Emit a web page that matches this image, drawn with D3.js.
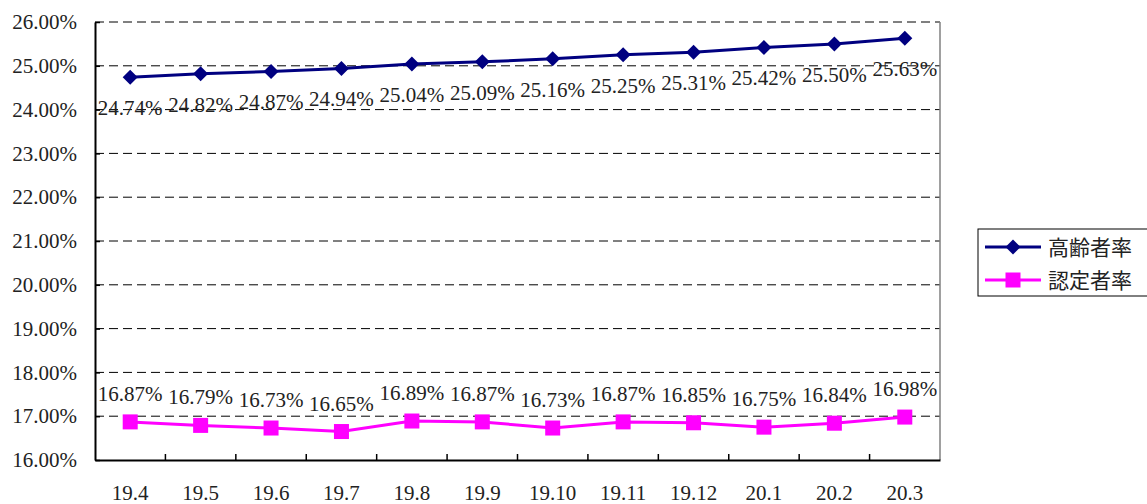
<!DOCTYPE html>
<html>
<head>
<meta charset="utf-8">
<script src="https://cdn.jsdelivr.net/npm/d3@7"></script>
</head>
<body style="margin:0;background:#fff">
<div id="chart"></div>
<script>
var categories = ["19.4","19.5","19.6","19.7","19.8","19.9","19.10","19.11","19.12","20.1","20.2","20.3"];
var seriesNames = ["高齢者率", "認定者率"];
var elderlyRate = [24.74,24.82,24.87,24.94,25.04,25.09,25.16,25.25,25.31,25.42,25.50,25.63];
var certifiedRate = [16.87,16.79,16.73,16.65,16.89,16.87,16.73,16.87,16.85,16.75,16.84,16.98];
var yTicks = [16,17,18,19,20,21,22,23,24,25,26];

var W = 1147, H = 504,
    margin = {top: 22, right: 207, bottom: 44, left: 95},
    width = W - margin.left - margin.right,
    height = H - margin.top - margin.bottom;

var NUM_FONT = "Liberation Serif";
var LEG_FONT = "Noto Sans CJK JP";

function numText(sel) {
  sel.attr("font-family", NUM_FONT).attr("font-size", 21).attr("fill", "#222");
}

var svg = d3.select("#chart").append("svg")
    .attr("width", W).attr("height", H);
var g = svg.append("g")
    .attr("transform", "translate(" + margin.left + "," + margin.top + ")");

var xScale = d3.scaleBand().domain(categories).range([0, width]).padding(0);
var yScale = d3.scaleLinear().domain([16, 26]).range([height, 0]);
var xc = function(i) { return xScale(categories[i]) + xScale.bandwidth() / 2; };

// grid
g.selectAll(".grid").data(yTicks.slice(1))
  .enter().append("line")
  .attr("x1", 0).attr("x2", width)
  .attr("y1", function(d) { return yScale(d); })
  .attr("y2", function(d) { return yScale(d); })
  .attr("stroke", "#000").attr("stroke-width", 1)
  .attr("stroke-dasharray", "9,5");

// right border
g.append("line").attr("x1", width).attr("x2", width).attr("y1", 0).attr("y2", height)
  .attr("stroke", "#808080").attr("stroke-width", 1.5);

// y axis
var yAxis = d3.axisLeft(yScale).tickValues(yTicks)
  .tickSizeInner(-5).tickSizeOuter(0).tickPadding(18)
  .tickFormat(function(d) { return d.toFixed(2) + "%"; });
var ya = g.append("g").call(yAxis).attr("font-family", NUM_FONT).attr("font-size", 21);
ya.select(".domain").attr("stroke", "#000").attr("stroke-width", 2);
ya.selectAll(".tick line").attr("stroke", "#000").attr("stroke-width", 1.5);
ya.selectAll("text").call(numText);

// x axis
var xAxis = d3.axisBottom(xScale).tickSize(0).tickPadding(25);
var xa = g.append("g").attr("transform", "translate(0," + height + ")").call(xAxis)
  .attr("font-family", NUM_FONT).attr("font-size", 21);
xa.select(".domain").attr("stroke", "#000").attr("stroke-width", 2);
xa.selectAll("text").call(numText);
// tick marks between categories
xa.selectAll(".sep").data(categories.slice(1))
  .enter().append("line")
  .attr("x1", function(d) { return xScale(d); })
  .attr("x2", function(d) { return xScale(d); })
  .attr("y1", 0).attr("y2", -6)
  .attr("stroke", "#000").attr("stroke-width", 1.5);

var line = d3.line().x(function(d, i) { return xc(i); }).y(function(d) { return yScale(d); });
var diamond = "M0,-7.5L7.5,0L0,7.5L-7.5,0Z";

// series 1
g.append("path").datum(elderlyRate).attr("d", line)
  .attr("fill", "none").attr("stroke", "#000080").attr("stroke-width", 3);
g.selectAll(".dia").data(elderlyRate).enter().append("path")
  .attr("d", diamond)
  .attr("transform", function(d, i) { return "translate(" + xc(i) + "," + yScale(d) + ")"; })
  .attr("fill", "#000080");
g.selectAll(".lab1").data(elderlyRate).enter().append("text")
  .attr("text-anchor", "middle")
  .attr("x", function(d, i) { return xc(i); })
  .attr("y", function(d) { return yScale(d) + 38; })
  .text(function(d) { return d.toFixed(2) + "%"; })
  .call(numText);

// series 2
g.append("path").datum(certifiedRate).attr("d", line)
  .attr("fill", "none").attr("stroke", "#FF00FF").attr("stroke-width", 3);
g.selectAll(".sq").data(certifiedRate).enter().append("rect")
  .attr("x", function(d, i) { return xc(i) - 7.5; })
  .attr("y", function(d) { return yScale(d) - 7.5; })
  .attr("width", 15).attr("height", 15)
  .attr("fill", "#FF00FF");
g.selectAll(".lab2").data(certifiedRate).enter().append("text")
  .attr("text-anchor", "middle")
  .attr("x", function(d, i) { return xc(i); })
  .attr("y", function(d) { return yScale(d) - 21; })
  .text(function(d) { return d.toFixed(2) + "%"; })
  .call(numText);

// legend
var leg = svg.append("g");
leg.append("rect").attr("x", 978).attr("y", 229).attr("width", 175).attr("height", 67)
  .attr("fill", "#fff").attr("stroke", "#000").attr("stroke-width", 1);
var colors = ["#000080", "#FF00FF"];
seriesNames.forEach(function(name, i) {
  var cy = 247 + i * 33;
  leg.append("line").attr("x1", 985).attr("x2", 1041).attr("y1", cy).attr("y2", cy)
    .attr("stroke", colors[i]).attr("stroke-width", 3);
  if (i === 0) {
    leg.append("path").attr("d", diamond)
      .attr("transform", "translate(1013," + cy + ")").attr("fill", colors[i]);
  } else {
    leg.append("rect").attr("x", 1005.5).attr("y", cy - 7.5).attr("width", 15).attr("height", 15)
      .attr("fill", colors[i]);
  }
  leg.append("text").attr("x", 1048).attr("y", cy).attr("dy", "0.36em")
    .attr("font-family", LEG_FONT).attr("font-size", 21).attr("fill", "#222")
    .text(name);
});
</script>
</body>
</html>
